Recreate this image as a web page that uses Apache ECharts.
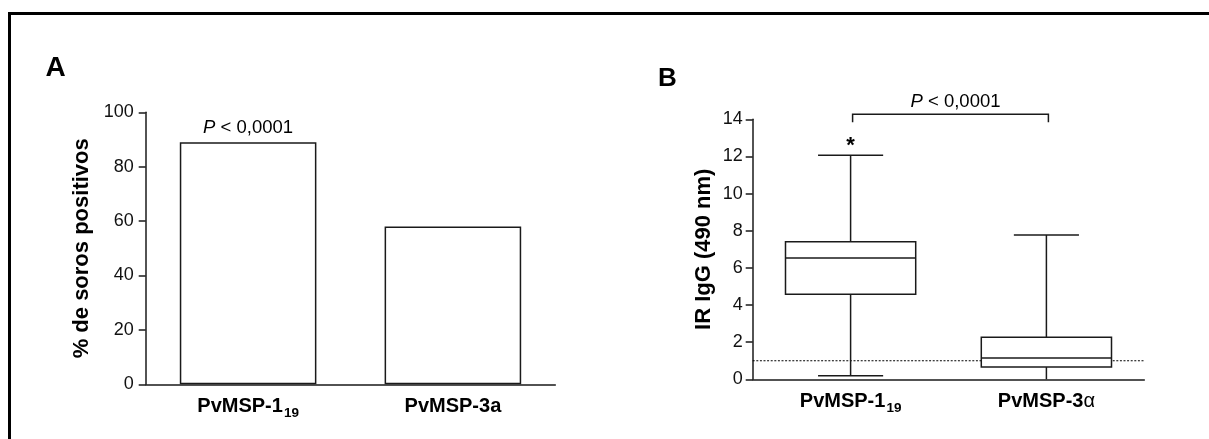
<!DOCTYPE html>
<html><head><meta charset="utf-8">
<script src="https://cdn.jsdelivr.net/npm/echarts@6/dist/echarts.min.js"></script>
<style>html,body{margin:0;padding:0;background:#fff}#c{width:1209px;height:439px}</style>
</head><body><div id="c"></div>
<script>
// ---- Panel A data ----
const categoriesA = ['PvMSP-1{sub|19}', 'PvMSP-3a'];
const positivePct = [89, 58];
const barLabels = ['{i|P} < 0,0001', ''];
const yMinA = 0, yMaxA = 100, yStepA = 20;
const yTitleA = '% de soros positivos';

// ---- Panel B data ----
const categoriesB = ['PvMSP-1{sub|19}', 'PvMSP-3{al|α}'];
const boxMin = [0.19, 0];
const boxQ1 = [4.58, 0.66];
const boxMedian = [6.53, 1.15];
const boxQ3 = [7.41, 2.26];
const boxMax = [12.06, 7.77];
const boxMarks = ['*', ''];
const cutoff = [1];
const compareLabel = '{i|P} < 0,0001';
const yMinB = 0, yMaxB = 14, yStepB = 2;
const yTitleB = 'IR IgG (490 nm)';

const FF = '"Liberation Sans", Arial, Helvetica, sans-serif';
const INK = '#1a1a1a';

const chart = echarts.init(document.getElementById('c'), null, {renderer: 'canvas'});

const xLabelRich = {
  sub: {fontSize: 13.5, fontWeight: 'bold', fontFamily: FF, color: '#000', lineHeight: 14, padding: [14, 0, 0, 1]},
  al: {fontSize: 20, fontWeight: 'normal', fontFamily: FF, color: '#000', lineHeight: 28}
};

function xAxisCfg(gridIndex, data) {
  return {
    type: 'category', gridIndex, data,
    axisLine: {show: true, lineStyle: {color: INK, width: 1.5}},
    axisTick: {show: false},
    splitLine: {show: false},
    axisLabel: {interval: 0, hideOverlap: false, fontSize: 20, lineHeight: 28, fontWeight: 'bold', fontFamily: FF, color: '#000', margin: 8, rich: xLabelRich}
  };
}
function yAxisCfg(gridIndex, min, max, interval, name, nameGap, labelMargin) {
  return {
    type: 'value', gridIndex, min, max, interval,
    name, nameLocation: 'middle', nameGap,
    nameTextStyle: {fontSize: 22, fontWeight: 'bold', fontFamily: FF, color: '#000'},
    axisLine: {show: true, lineStyle: {color: INK, width: 1.5}},
    axisTick: {show: true, length: 7, lineStyle: {color: INK, width: 1.5}},
    splitLine: {show: false},
    axisLabel: {fontSize: 18, fontFamily: FF, color: '#111', margin: labelMargin}
  };
}

const boxData = boxMin.map((v, i) => [i, boxMin[i], boxQ1[i], boxMedian[i], boxQ3[i], boxMax[i]]);

function renderBox(params, api) {
  const x = api.value(0);
  const pMin = api.coord([x, api.value(1)]);
  const pQ1 = api.coord([x, api.value(2)]);
  const pMed = api.coord([x, api.value(3)]);
  const pQ3 = api.coord([x, api.value(4)]);
  const pMax = api.coord([x, api.value(5)]);
  const bw = api.size([1, 0])[0] * 0.665;
  const cx = pMed[0], hw = bw / 2, cw = bw / 4;
  const st = {stroke: INK, lineWidth: 1.5, fill: null};
  const children = [
    {type: 'line', shape: {x1: cx, y1: pQ3[1], x2: cx, y2: pMax[1]}, style: st},
    {type: 'line', shape: {x1: cx, y1: pQ1[1], x2: cx, y2: pMin[1]}, style: st},
    {type: 'line', shape: {x1: cx - cw, y1: pMax[1], x2: cx + cw, y2: pMax[1]}, style: st},
    {type: 'rect', shape: {x: cx - hw, y: pQ3[1], width: bw, height: pQ1[1] - pQ3[1]}, style: {stroke: INK, lineWidth: 1.5, fill: '#fff'}},
    {type: 'line', shape: {x1: cx - hw, y1: pMed[1], x2: cx + hw, y2: pMed[1]}, style: st}
  ];
  if (api.value(1) > yMinB) {
    children.push({type: 'line', shape: {x1: cx - cw, y1: pMin[1], x2: cx + cw, y2: pMin[1]}, style: st});
  }
  const mark = boxMarks[params.dataIndex];
  if (mark) {
    children.push({type: 'text', style: {text: mark, x: cx, y: pMax[1] - 9.5, align: 'center', verticalAlign: 'middle',
      fontSize: 22, fontWeight: 'bold', fontFamily: FF, fill: '#000'}});
  }
  return {type: 'group', children};
}

function renderCutoff(params, api) {
  const cs = params.coordSys;
  const y = api.coord([0, api.value(0)])[1];
  return {type: 'line', shape: {x1: cs.x, y1: y, x2: cs.x + cs.width, y2: y},
    style: {stroke: '#000', lineWidth: 1.2, lineDash: [2, 1.6], fill: null}};
}

function renderBracket(params, api) {
  const yTop = api.coord([0, yMaxB])[1] - 5;
  const yEnd = yTop + 8;
  const x0 = api.coord([api.value(0), 0])[0] + 2;
  const x1 = api.coord([api.value(1), 0])[0] + 2;
  return {type: 'group', children: [
    {type: 'polyline', shape: {points: [[x0, yEnd], [x0, yTop], [x1, yTop], [x1, yEnd]]},
      style: {stroke: INK, lineWidth: 1.5, fill: null}},
    {type: 'text', style: {text: compareLabel, x: (x0 + x1) / 2 + 5, y: yTop - 12.5, align: 'center', verticalAlign: 'middle',
      fontSize: 18.5, fontFamily: FF, fill: '#000', rich: {i: {fontStyle: 'italic', fontSize: 18.5, fontFamily: FF, fill: '#000'}}}}
  ]};
}

const option = {
  animation: false,
  backgroundColor: '#fff',
  textStyle: {fontFamily: FF},
  grid: [
    {left: 145.7, top: 112.3, width: 409.6, height: 272, containLabel: false, outerBoundsMode: 'none'},
    {left: 752.7, top: 119.3, width: 391.6, height: 260, containLabel: false, outerBoundsMode: 'none'}
  ],
  xAxis: [xAxisCfg(0, categoriesA), xAxisCfg(1, categoriesB)],
  yAxis: [
    yAxisCfg(0, yMinA, yMaxA, yStepA, yTitleA, 53, 12),
    yAxisCfg(1, yMinB, yMaxB, yStepB, yTitleB, 38, 10)
  ],
  series: [
    {
      type: 'bar', xAxisIndex: 0, yAxisIndex: 0, data: positivePct, barWidth: '66.7%',
      itemStyle: {color: '#fff', borderColor: INK, borderWidth: 1.5},
      label: {show: true, position: 'top', distance: 5, fontSize: 18.5, fontFamily: FF, color: '#000',
        formatter: p => barLabels[p.dataIndex],
        rich: {i: {fontStyle: 'italic', fontSize: 18.5, fontFamily: FF, color: '#000'}}},
      silent: true
    },
    {type: 'custom', xAxisIndex: 1, yAxisIndex: 1, data: cutoff.map(v => [v]), encode: {y: 0}, renderItem: renderCutoff, z: 1, silent: true},
    {type: 'custom', xAxisIndex: 1, yAxisIndex: 1, data: boxData, encode: {x: 0, y: [1, 2, 3, 4, 5]}, renderItem: renderBox, z: 2, silent: true},
    {type: 'custom', xAxisIndex: 1, yAxisIndex: 1, data: [[0, 1]], encode: {x: [0, 1]}, renderItem: renderBracket, clip: false, z: 3, silent: true}
  ],
  graphic: [
    {type: 'line', shape: {x1: 8, y1: 13.5, x2: 1209, y2: 13.5}, style: {stroke: '#000', lineWidth: 3}},
    {type: 'line', shape: {x1: 9.5, y1: 12, x2: 9.5, y2: 439}, style: {stroke: '#000', lineWidth: 3}},
    {type: 'text', x: 55.5, y: 68, style: {text: 'A', align: 'center', verticalAlign: 'middle', fontSize: 28, fontWeight: 'bold', fontFamily: FF, fill: '#000'}},
    {type: 'text', x: 667.5, y: 79, style: {text: 'B', align: 'center', verticalAlign: 'middle', fontSize: 26, fontWeight: 'bold', fontFamily: FF, fill: '#000'}}
  ]
};
chart.setOption(option);
</script>
</body></html>
